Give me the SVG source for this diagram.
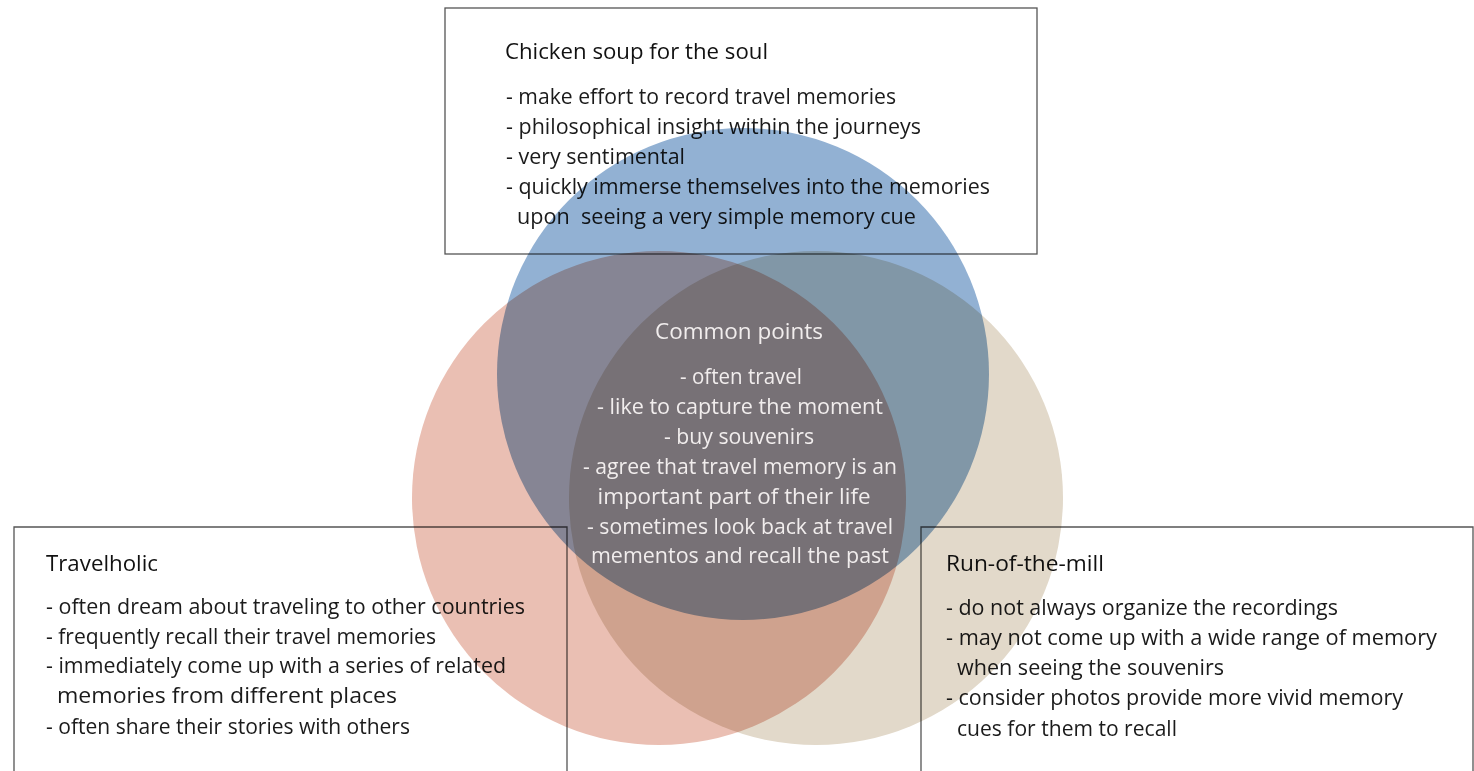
<svg xmlns="http://www.w3.org/2000/svg" width="1474" height="771" viewBox="0 0 1474 771">
  <style>
    .box { fill: none; stroke: #555; stroke-width: 1.3; }
    .t { font-family: "Open Sans", "Noto Sans", sans-serif; font-size: 21px; fill: #1b1b1b; }
    .h { font-family: "Open Sans", "Noto Sans", sans-serif; font-size: 21px; fill: #111; }
    .c { font-family: "Open Sans", "Noto Sans", sans-serif; font-size: 21px; fill: #f1eded; text-anchor: middle; }
    .ring { mix-blend-mode: multiply; }
  </style>
  <rect x="0" y="0" width="1474" height="771" fill="#ffffff"/>

  <!-- Chicken soup for the soul -->
  <g id="chicken-soup">
    <rect class="box" x="445" y="8" width="592" height="246"/>
    <text class="h" x="505" y="59" textLength="263" lengthAdjust="spacingAndGlyphs">Chicken soup for the soul</text>
    <text class="t" x="506" y="104" textLength="390" lengthAdjust="spacingAndGlyphs">- make effort to record travel memories</text>
    <text class="t" x="506" y="134" textLength="415" lengthAdjust="spacingAndGlyphs">- philosophical insight within the journeys</text>
    <text class="t" x="506" y="164" textLength="179" lengthAdjust="spacingAndGlyphs">- very sentimental</text>
    <text class="t" x="506" y="194" textLength="484" lengthAdjust="spacingAndGlyphs">- quickly immerse themselves into the memories</text>
    <text class="t" x="517" y="224" textLength="399" lengthAdjust="spacingAndGlyphs" xml:space="preserve">upon  seeing a very simple memory cue</text>
  </g>

  <!-- Travelholic -->
  <g id="travelholic">
    <path class="box" d="M567,771 V527 H14 V771"/>
    <text class="h" x="46" y="571" textLength="112" lengthAdjust="spacingAndGlyphs">Travelholic</text>
    <text class="t" x="46" y="614" textLength="479" lengthAdjust="spacingAndGlyphs">- often dream about traveling to other countries</text>
    <text class="t" x="46" y="644" textLength="390" lengthAdjust="spacingAndGlyphs">- frequently recall their travel memories</text>
    <text class="t" x="46" y="673" textLength="460" lengthAdjust="spacingAndGlyphs">- immediately come up with a series of related</text>
    <text class="t" x="57" y="703" textLength="340" lengthAdjust="spacingAndGlyphs">memories from different places</text>
    <text class="t" x="46" y="734" textLength="364" lengthAdjust="spacingAndGlyphs">- often share their stories with others</text>
  </g>

  <!-- Run-of-the-mill -->
  <g id="run-of-the-mill">
    <path class="box" d="M921,771 V527 H1473 V771"/>
    <text class="h" x="946" y="571" textLength="158" lengthAdjust="spacingAndGlyphs">Run-of-the-mill</text>
    <text class="t" x="946" y="615" textLength="392" lengthAdjust="spacingAndGlyphs">- do not always organize the recordings</text>
    <text class="t" x="946" y="645" textLength="491" lengthAdjust="spacingAndGlyphs">- may not come up with a wide range of memory</text>
    <text class="t" x="957" y="675" textLength="267" lengthAdjust="spacingAndGlyphs">when seeing the souvenirs</text>
    <text class="t" x="946" y="705" textLength="457" lengthAdjust="spacingAndGlyphs">- consider photos provide more vivid memory</text>
    <text class="t" x="957" y="736" textLength="220" lengthAdjust="spacingAndGlyphs">cues for them to recall</text>
  </g>

  <!-- Venn circles, blended so the overlaps darken -->
  <g id="venn">
    <circle class="ring" cx="659" cy="498" r="247" fill="#eabfb3"/>
    <circle class="ring" cx="816" cy="498" r="247" fill="#e2d9ca"/>
    <circle class="ring" cx="743" cy="374" r="246" fill="#92b1d3"/>
  </g>

  <!-- Common points -->
  <g id="common-points">
    <text class="c" x="739" y="339" textLength="168" lengthAdjust="spacingAndGlyphs">Common points</text>
    <text class="c" x="741" y="384" textLength="122" lengthAdjust="spacingAndGlyphs">- often travel</text>
    <text class="c" x="740" y="414" textLength="286" lengthAdjust="spacingAndGlyphs">- like to capture the moment</text>
    <text class="c" x="739" y="444" textLength="150" lengthAdjust="spacingAndGlyphs">- buy souvenirs</text>
    <text class="c" x="740" y="474" textLength="314" lengthAdjust="spacingAndGlyphs">- agree that travel memory is an</text>
    <text class="c" x="734" y="504" textLength="273" lengthAdjust="spacingAndGlyphs">important part of their life</text>
    <text class="c" x="740" y="534" textLength="306" lengthAdjust="spacingAndGlyphs">- sometimes look back at travel</text>
    <text class="c" x="740" y="563" textLength="298" lengthAdjust="spacingAndGlyphs">mementos and recall the past</text>
  </g>
</svg>
